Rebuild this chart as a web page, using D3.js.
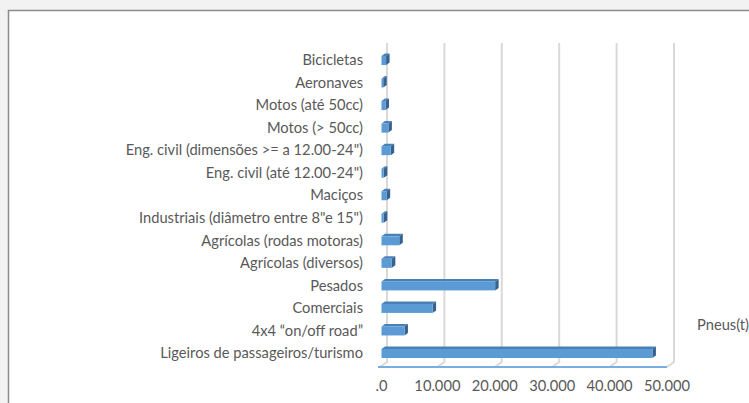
<!DOCTYPE html>
<html>
<head>
<meta charset="utf-8">
<script src="https://cdn.jsdelivr.net/npm/d3@7"></script>
<style>
  html, body { margin: 0; padding: 0; background: #f2f2f2; }
  svg { display: block; }
  text { font-family: Lato, "Open Sans", sans-serif; fill: #595959; }
</style>
</head>
<body>
<svg id="chart" width="749" height="403"></svg>
<script>
const categories = [
  "Bicicletas",
  "Aeronaves",
  "Motos (até 50cc)",
  "Motos (> 50cc)",
  "Eng. civil (dimensões >= a 12.00-24\")",
  "Eng. civil (até 12.00-24\")",
  "Maciços",
  "Industriais (diâmetro entre 8\"e 15\")",
  "Agrícolas (rodas motoras)",
  "Agrícolas (diversos)",
  "Pesados",
  "Comerciais",
  "4x4 “on/off road”",
  "Ligeiros de passageiros/turismo"
];
const values = [800, 300, 700, 1200, 1600, 400, 900, 400, 3100, 1800, 19800, 8900, 4000, 47200];
const tickValues = [0, 10000, 20000, 30000, 40000, 50000];
const tickLabels = [".0", "10.000", "20.000", "30.000", "40.000", "50.000"];
const seriesName = "Pneus(t)";

const svg = d3.select("#chart");

// chart area box
svg.append("rect").attr("x", 8.5).attr("y", 10.5).attr("width", 760).attr("height", 420)
  .attr("fill", "#ffffff").attr("stroke", "#8c8c8c").attr("stroke-width", 1.5);

// scales (front plane)
const x = d3.scaleLinear().domain([0, 50000]).range([380, 667]);
const y = d3.scalePoint().domain(categories).range([60.5, 353.5]);

// depth of the 3D floor / back wall
const wallDX = 7, wallDY = -5;
const floorY = 367, topY = 43;

const grid = svg.append("g");
tickValues.forEach(v => {
  const xb = x(v) + wallDX;
  grid.append("path")
    .attr("d", `M${xb},${topY} L${xb},${floorY + wallDY} L${x(v)},${floorY}`)
    .attr("fill", "none").attr("stroke", "#d9d9d9").attr("stroke-width", 2);
});
// front floor edge
svg.append("line").attr("x1", x(0) - 2).attr("x2", x(50000)).attr("y1", floorY).attr("y2", floorY)
  .attr("stroke", "#7aaee0").attr("stroke-width", 2);

// bars (3D)
const barH = 9, bdx = 3.5, bdy = -2.5, barOff = 1.5;
const bars = svg.append("g");
categories.forEach((c, i) => {
  const x0 = x(0) + barOff, x1 = x(values[i]) + barOff;
  const yc = y(c), y0 = yc - barH / 2, y1 = yc + barH / 2;
  // top face
  bars.append("path")
    .attr("d", `M${x0},${y0} L${x0 + bdx},${y0 + bdy} L${x1 + bdx},${y0 + bdy} L${x1},${y0} Z`)
    .attr("fill", "#4a80b8");
  // side face
  bars.append("path")
    .attr("d", `M${x1},${y0} L${x1 + bdx},${y0 + bdy} L${x1 + bdx},${y1 + bdy} L${x1},${y1} Z`)
    .attr("fill", "#36628f");
  // front face
  bars.append("rect").attr("x", x0).attr("y", y0).attr("width", Math.max(0.8, x1 - x0)).attr("height", barH)
    .attr("fill", "#5b9bd5");
});

// category labels
const labels = svg.append("g");
const lab = labels.selectAll("text").data(categories).join("text")
  .attr("x", 363).attr("y", d => y(d) + 1)
  .attr("text-anchor", "end").attr("dominant-baseline", "middle")
  .style("font-size", "13px")
  .text(d => d);
// fit font size so longest label matches target width
const longest = lab.nodes()[categories.length - 1].getComputedTextLength();
const fs = 13 * 203 / longest;
lab.style("font-size", fs + "px");

// tick labels
svg.append("g").selectAll("text").data(tickValues).join("text")
  .attr("x", (d, i) => x(d) + (i === 0 ? 1.5 : 0)).attr("y", 387)
  .attr("text-anchor", "middle").attr("dominant-baseline", "middle")
  .style("font-size", fs + "px")
  .text((d, i) => tickLabels[i]);

// legend
svg.append("text").attr("x", 697).attr("y", 326).attr("dominant-baseline", "middle")
  .style("font-size", fs + "px").text(seriesName);
</script>
</body>
</html>
